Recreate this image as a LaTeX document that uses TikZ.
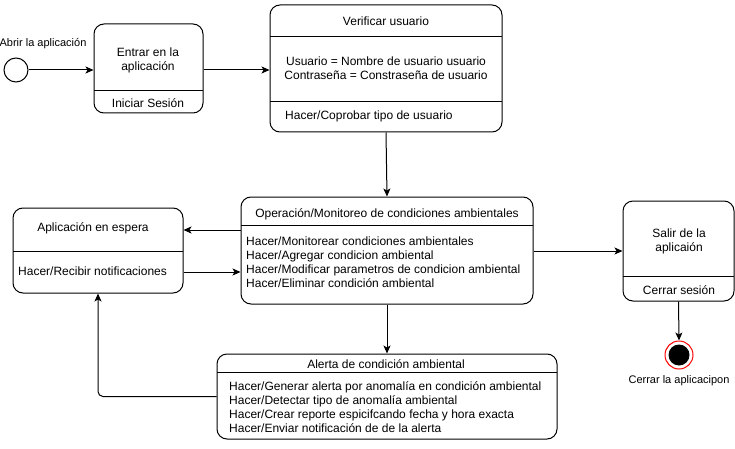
\documentclass[tikz,border=0pt]{standalone}
\usepackage{fontspec}
\setmainfont{Liberation Sans}
\usetikzlibrary{arrows.meta}

\tikzstyle{estado} = [draw, rounded corners=10pt, line width=1pt, inner sep=0pt]
\tikzstyle{txt} = [inner sep=0pt, font=\fontsize{12}{14}\selectfont, align=center]
\tikzstyle{lista} = [inner sep=0pt, font=\fontsize{12}{14}\selectfont, align=left, anchor=west]
\tikzstyle{etiqueta} = [inner sep=0pt, font=\fontsize{11}{13}\selectfont]
\tikzstyle{flecha} = [-{Stealth[length=8pt, width=7pt, inset=2pt]}, line width=1pt]
\tikzstyle{linea} = [line width=1pt]

\begin{document}
\begin{tikzpicture}[x=1pt, y=-1pt]
  \useasboundingbox (0,0) rectangle (735,449);

  % estado inicial
  \node[draw, circle, line width=1pt, minimum size=24pt, inner sep=0pt] (ini) at (16,70) {};
  \node[etiqueta] (lblini) at (43,44) {Abrir la aplicación};

  % Entrar en la aplicacion
  \node[estado, minimum width=109pt, minimum height=89pt] (entrar) at (148.5,68.5) {};
  \draw[linea] (94,91) -- (203,91);
  \node[txt] (entrart) at (148,60) {Entrar en la\\aplicación};
  \node[txt] (entrars) at (148,103) {Iniciar Sesión};

  % Verificar usuario
  \node[estado, minimum width=232pt, minimum height=127pt] (verif) at (386,68.5) {};
  \draw[linea] (270,37) -- (502,37);
  \draw[linea] (270,102) -- (502,102);
  \node[txt] (verift) at (386,21) {Verificar usuario};
  \node[txt] (verifc) at (386,68) {Usuario = Nombre de usuario usuario\\Contraseña = Constraseña de usuario};
  \node[lista] (verifh) at (285,116) {Hacer/Coprobar tipo de usuario};

  % Operacion / monitoreo
  \node[estado, minimum width=292pt, minimum height=107pt] (oper) at (387,250.5) {};
  \draw[linea] (241,225) -- (533,225);
  \node[txt] (opert) at (387,214) {Operación/Monitoreo de condiciones ambientales};
  \node[lista] (operh) at (246,262) {Hacer/Monitorear condiciones ambientales\\Hacer/Agregar condicion ambiental\\Hacer/Modificar parametros de condicion ambiental\\Hacer/Eliminar condición ambiental};

  % Aplicacion en espera
  \node[estado, minimum width=170pt, minimum height=85pt] (espera) at (98,250.5) {};
  \draw[linea] (13,251) -- (183,251);
  \node[txt] (esperat) at (93,228) {Aplicación en espera};
  \node[lista] (esperah) at (18,271) {Hacer/Recibir notificaciones};

  % Salir
  \node[estado, minimum width=111pt, minimum height=100pt] (salir) at (678.5,251) {};
  \draw[linea] (623,276) -- (734,276);
  \node[txt] (salirt) at (679,241) {Salir de la\\aplicaión};
  \node[txt] (salirc) at (679,290) {Cerrar sesión};

  % estado final
  \node[draw=red, circle, line width=1pt, minimum size=28pt, inner sep=0pt] (fin) at (679,355) {};
  \node[circle, fill=black, minimum size=21pt, inner sep=0pt] (finc) at (fin) {};
  \node[etiqueta] (lblfin) at (679,381) {Cerrar la aplicacipon};

  % Alerta
  \node[estado, minimum width=340pt, minimum height=85pt] (alerta) at (387,396.5) {};
  \draw[linea] (217,372) -- (557,372);
  \node[txt] (alertat) at (386,364) {Alerta de condición ambiental};
  \node[lista] (alertah) at (229,407) {Hacer/Generar alerta por anomalía en condición ambiental\\Hacer/Detectar tipo de anomalía ambiental\\Hacer/Crear reporte espicifcando fecha y hora exacta\\Hacer/Enviar notificación de de la alerta};

  % transiciones
  \draw[flecha] (ini.east) -- (ini.east -| entrar.west);
  \draw[flecha] (entrar.east |- 0,70) -- (verif.west |- 0,70);
  \draw[flecha] (verif.south) -- (oper.north);
  \draw[flecha] (oper.west |- 0,230) -- (espera.east |- 0,230);
  \draw[flecha] (espera.east |- 0,272) -- (oper.west |- 0,272);
  \draw[flecha] (oper.east |- 0,251) -- (salir.west |- 0,251);
  \draw[flecha] (salir.south) -- (fin.north);
  \draw[flecha] (oper.south) -- (alerta.north);
  \draw[flecha, rounded corners=5pt] (alerta.west) -- (98,396.5) -- (espera.south);
\end{tikzpicture}
\end{document}
